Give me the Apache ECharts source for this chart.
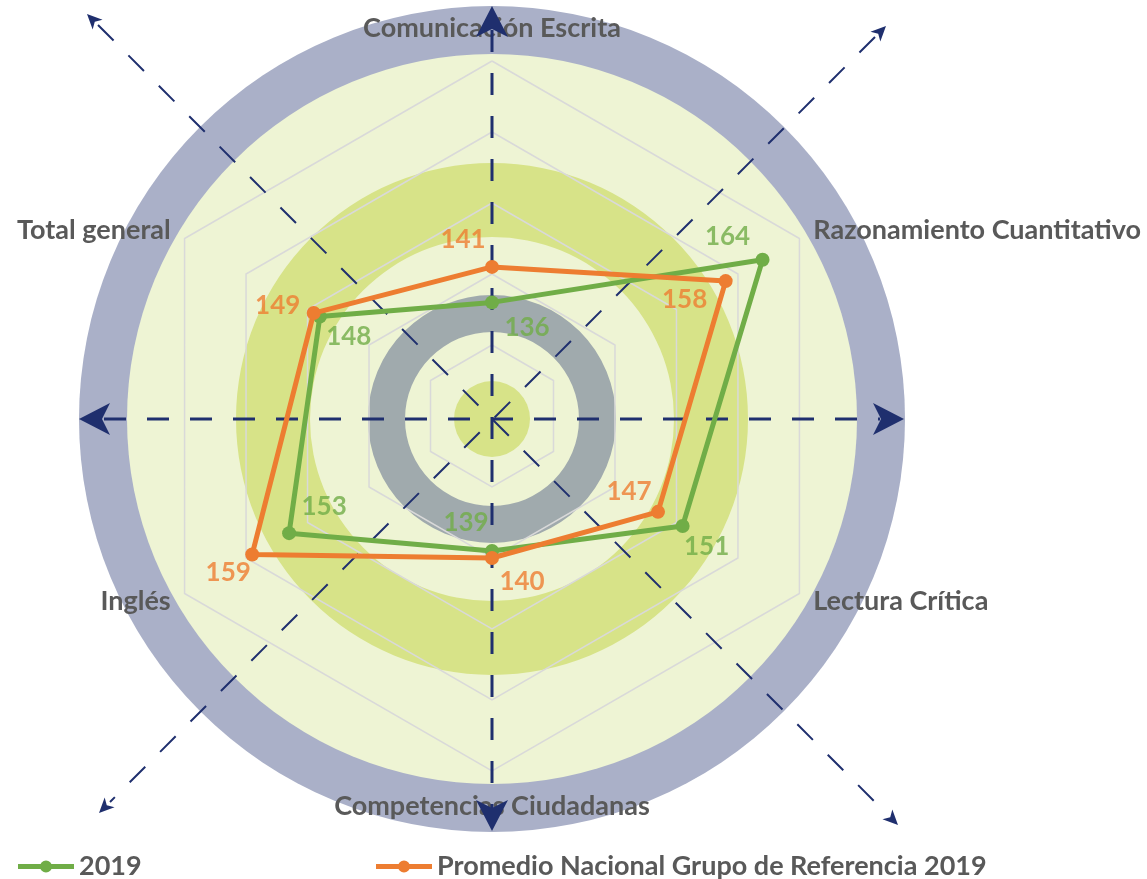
<!DOCTYPE html>
<html>
<head>
<meta charset="utf-8">
<script src="https://cdn.jsdelivr.net/npm/echarts@6/dist/echarts.min.js"></script>
<style>
html,body{margin:0;padding:0;background:#fff}
#main{width:1147px;height:879px}
</style>
</head>
<body>
<div id="main"></div>
<script>
// ejes en el sentido de las agujas del reloj, desde arriba
var indicadores = ['Comunicación Escrita', 'Razonamiento Cuantitativo', 'Lectura Crítica',
    'Competencias Ciudadanas', 'Inglés', 'Total general'];
var serie2019 = [136, 164, 151, 139, 153, 148];
var seriePromedio = [141, 158, 147, 140, 159, 149];
var nombres = ['2019', 'Promedio Nacional Grupo de Referencia 2019'];
var escalaMin = 120, escalaMax = 170;

// desplazamiento de las etiquetas de valor (px)
var offs2019 = [[35, 25], [-35, -23], [24, 21], [-26, -28], [35, -27], [29, 20]];
var offsProm = [[-29, -27], [-41, 19], [-29, -20], [30, 24], [-24, 18], [-36, -7]];

var verde = '#70ad47', naranja = '#ed7d31', gris = '#595959', azul = '#1f2f6e';
var fuente = 'Lato, "Open Sans", sans-serif';

// el radar de echarts va contra reloj
var orden = [0, 5, 4, 3, 2, 1];
function ccw(arr) { return orden.map(function (i) { return arr[i]; }); }

var chart = echarts.init(document.getElementById('main'));

// fondo decorativo
var cx = 492, cy = 419;
function punta(tx, ty, ang, len, half, notch) {
    var c = Math.cos(ang), s = Math.sin(ang);
    var bx = tx - c * len, by = ty - s * len;
    return {
        type: 'polygon', z: 1,
        shape: {points: [[tx, ty], [bx - s * half, by + c * half],
            [tx - c * (len - notch), ty - s * (len - notch)], [bx + s * half, by - c * half]]},
        style: {fill: azul}
    };
}
function raya(x1, y1, x2, y2, w) {
    return {type: 'line', z: 1, shape: {x1: x1, y1: y1, x2: x2, y2: y2},
        style: {stroke: azul, lineWidth: w, lineDash: [22, 21]}};
}
var fondo = [
    {type: 'circle', z: -5, z2: 1, shape: {cx: cx, cy: cy, r: 413}, style: {fill: '#aab0c8'}},
    {type: 'circle', z: -5, z2: 2, shape: {cx: cx, cy: cy, r: 365}, style: {fill: '#eef4d4'}},
    {type: 'ring', z: -5, z2: 3, shape: {cx: cx, cy: cy, r: 256, r0: 182}, style: {fill: '#d7e388'}},
    {type: 'ring', z: -5, z2: 4, shape: {cx: cx, cy: cy, r: 124, r0: 87}, style: {fill: '#a0aaad'}},
    {type: 'circle', z: -5, z2: 5, shape: {cx: cx, cy: cy, r: 38}, style: {fill: '#d7e388'}},
    raya(104, cy, 880, cy, 3),
    raya(cx, 30, cx, 808, 3),
    raya(98, 25, 887, 814, 2),
    raya(875, 37, 110, 802, 2),
    punta(79, cy, Math.PI, 31, 16, 8),
    punta(904, cy, 0, 31, 16, 8),
    punta(cx, 6, -Math.PI / 2, 31, 16, 8),
    punta(cx, 831, Math.PI / 2, 31, 16, 8),
    punta(87, 14, -Math.PI * 3 / 4, 15, 7, 4),
    punta(898, 825, Math.PI / 4, 15, 7, 4),
    punta(886, 26, -Math.PI / 4, 15, 7, 4),
    punta(99, 813, Math.PI * 3 / 4, 15, 7, 4)
];

function etiquetas(valores, offs, color) {
    return {
        type: 'scatter', coordinateSystem: 'polar', z: 5, silent: true,
        symbolSize: 1, itemStyle: {color: 'rgba(0,0,0,0)'},
        data: valores.map(function (v, i) {
            return {value: [v, indicadores[i]], label: {offset: offs[i]}};
        }),
        label: {
            show: true, position: 'inside', color: color,
            fontSize: 26, fontWeight: 'bold', fontFamily: fuente,
            formatter: function (p) { return p.value[0]; }
        }
    };
}

var iconoLeyenda = 'path://M0,3.5L56,3.5L56,8.5L0,8.5Z M22,6A6,6 0 1,1 34,6A6,6 0 1,1 22,6Z';
var estiloLeyenda = {
    top: 848, itemWidth: 56, itemHeight: 12, icon: iconoLeyenda,
    itemStyle: {borderWidth: 0},
    textStyle: {color: gris, fontSize: 27, fontWeight: 'bold', fontFamily: fuente}
};

function radarSerie(nombre, valores, color, z) {
    return {
        type: 'radar', z: z, symbol: 'circle', symbolSize: 14,
        itemStyle: {color: color},
        lineStyle: {color: color, width: 5},
        data: [{name: nombre, value: ccw(valores),
            itemStyle: {color: color}, lineStyle: {color: color, width: 5}}]
    };
}

chart.setOption({
    animation: false,
    graphic: {elements: fondo},
    legend: [
        Object.assign({data: [nombres[0]], left: 13}, estiloLeyenda),
        Object.assign({data: [nombres[1]], left: 371}, estiloLeyenda)
    ],
    radar: {
        center: [492, 416], radius: 355, startAngle: 90,
        shape: 'polygon', splitNumber: 5,
        indicator: ccw(indicadores).map(function (n) {
            return {name: n, min: escalaMin, max: escalaMax};
        }),
        nameGap: 16,
        axisName: {
            color: gris, fontSize: 27, fontWeight: 'bold', fontFamily: fuente,
            formatter: function (n) {
                if (n === indicadores[0]) return '{arriba|' + n + '}';
                if (n === indicadores[3]) return '{abajo|' + n + '}';
                return n;
            },
            rich: {
                arriba: {fontSize: 27, fontWeight: 'bold', fontFamily: fuente, color: gris, padding: [0, 0, 3, 0]},
                abajo: {fontSize: 27, fontWeight: 'bold', fontFamily: fuente, color: gris, padding: [6, 0, 0, 0]}
            }
        },
        axisLine: {show: false},
        axisTick: {show: false},
        axisLabel: {show: false},
        splitArea: {show: false},
        splitLine: {lineStyle: {color: '#d9d9d9', width: 1.5}}
    },
    polar: {center: [492, 416], radius: 355},
    angleAxis: {type: 'category', data: indicadores, startAngle: 90, clockwise: true,
        boundaryGap: false, show: false},
    radiusAxis: {min: escalaMin, max: escalaMax, show: false},
    series: [
        radarSerie(nombres[0], serie2019, verde, 3),
        radarSerie(nombres[1], seriePromedio, naranja, 4),
        etiquetas(serie2019, offs2019, verde),
        etiquetas(seriePromedio, offsProm, naranja)
    ]
});
</script>
</body>
</html>
